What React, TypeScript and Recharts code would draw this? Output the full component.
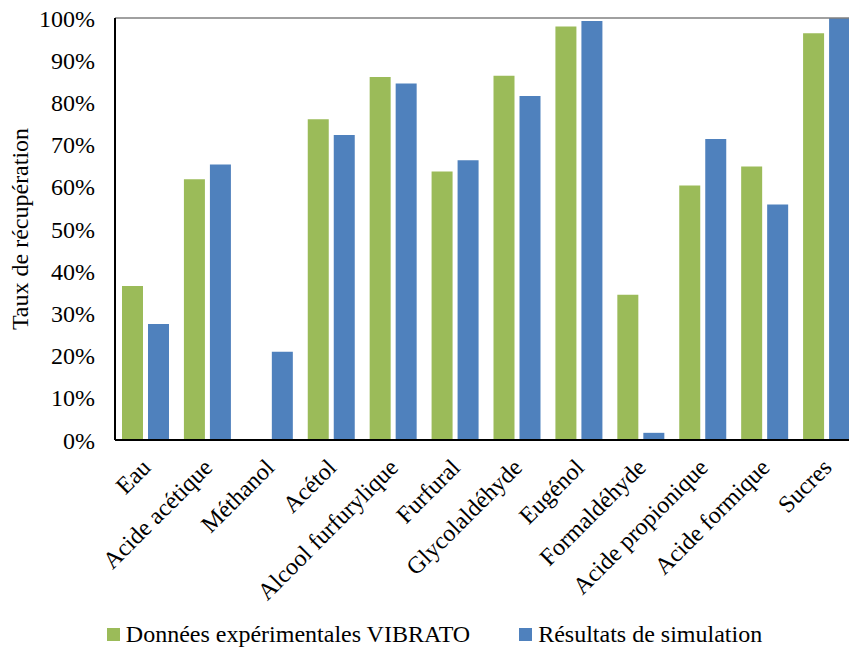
import { BarChart, Bar, XAxis, YAxis, Legend, ReferenceLine } from 'recharts';

const categories = [
  'Eau',
  'Acide acétique',
  'Méthanol',
  'Acétol',
  'Alcool furfurylique',
  'Furfural',
  'Glycolaldéhyde',
  'Eugénol',
  'Formaldéhyde',
  'Acide propionique',
  'Acide formique',
  'Sucres',
];

const experimental = [0.365, 0.618, 0, 0.76, 0.86, 0.636, 0.863, 0.98, 0.344, 0.603, 0.648, 0.964];
const simulation = [0.275, 0.653, 0.209, 0.723, 0.845, 0.663, 0.815, 0.993, 0.017, 0.713, 0.558, 1.0];

const yTicks = [0, 0.1, 0.2, 0.3, 0.4, 0.5, 0.6, 0.7, 0.8, 0.9, 1];

const FONT = '"Liberation Serif", "Times New Roman", serif';
const GREEN = '#9BBB59';
const BLUE = '#4F81BD';

const data = categories.map((name, i) => ({
  name,
  exp: experimental[i],
  sim: simulation[i],
}));

const XTick = (props: any) => {
  const { x, y, payload } = props;
  const ax = x + 6;
  const ay = y + 29;
  return (
    <text
      x={ax}
      y={ay}
      textAnchor="end"
      transform={`rotate(-45, ${ax}, ${ay})`}
      fontFamily={FONT}
      fontSize={24}
      fill="#000"
    >
      {payload.value}
    </text>
  );
};

const YTitle = (props: any) => {
  const { viewBox } = props;
  const x = viewBox.x + 28;
  const y = viewBox.y + viewBox.height / 2;
  return (
    <text
      x={x}
      y={y}
      textAnchor="middle"
      transform={`rotate(-90, ${x}, ${y})`}
      fontFamily={FONT}
      fontSize={24}
      fill="#000"
    >
      Taux de récupération
    </text>
  );
};

const legendItems = [
  { label: 'Données expérimentales VIBRATO', color: GREEN },
  { label: 'Résultats de simulation', color: BLUE },
];

const LegendContent = () => (
  <div
    style={{
      display: 'flex',
      justifyContent: 'center',
      alignItems: 'center',
      height: 30,
      paddingLeft: 11,
      fontFamily: FONT,
      fontSize: 24,
      color: '#000',
      gap: 49,
    }}
  >
    {legendItems.map((it) => (
      <div key={it.label} style={{ display: 'flex', alignItems: 'center' }}>
        <span style={{ width: 13, height: 13, background: it.color, marginRight: 6, display: 'inline-block' }} />
        <span style={{ whiteSpace: 'nowrap' }}>{it.label}</span>
      </div>
    ))}
  </div>
);

export default function App() {
  return (
    <div style={{ position: 'fixed', left: 0, top: 0, width: 849, height: 649, overflow: 'hidden', background: '#fff' }}>
      <BarChart
        width={870}
        height={649}
        data={data}
        margin={{ top: 18, right: 12, bottom: 0, left: 0 }}
        barSize={21}
        barGap={5}
      >
        <ReferenceLine y={1} stroke="#808080" strokeWidth={1.5} />
        <XAxis
          dataKey="name"
          height={179}
          interval={0}
          tickLine={false}
          tickSize={0}
          tickMargin={0}
          axisLine={{ stroke: '#000', strokeWidth: 2 }}
          tick={<XTick />}
        />
        <YAxis
          width={115}
          domain={[0, 1]}
          ticks={yTicks}
          interval={0}
          tickLine={false}
          tickSize={0}
          tickMargin={20}
          axisLine={{ stroke: '#000', strokeWidth: 2 }}
          tickFormatter={(v: number) => `${Math.round(v * 100)}%`}
          tick={{ fontFamily: FONT, fontSize: 24, fill: '#000' }}
          label={{ content: <YTitle /> }}
        />
        <Legend verticalAlign="bottom" content={<LegendContent />} />
        <Bar dataKey="exp" name="Données expérimentales VIBRATO" fill={GREEN} isAnimationActive={false} />
        <Bar dataKey="sim" name="Résultats de simulation" fill={BLUE} isAnimationActive={false} />
      </BarChart>
    </div>
  );
}
